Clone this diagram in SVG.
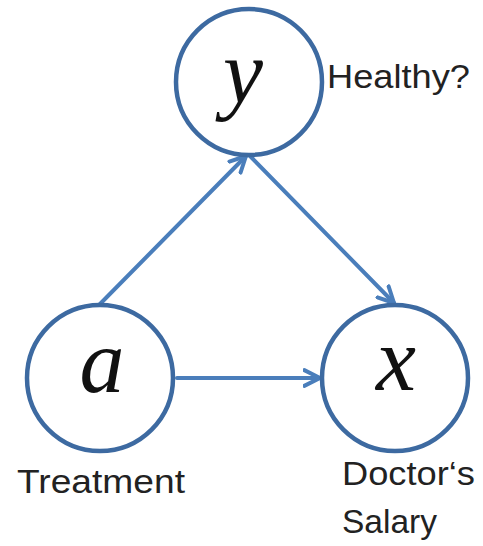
<svg xmlns="http://www.w3.org/2000/svg" width="483" height="546" viewBox="0 0 483 546">
<defs>
<style>
.node{fill:#fff;stroke:#3d6aa1;stroke-width:4.5}
.var{font-family:"Liberation Serif",serif;font-style:italic;font-size:90px;fill:#111;text-anchor:middle}
.lbl{font-family:"Liberation Sans",sans-serif;font-size:33px;fill:#222}
.edge{stroke:#4a7ebb;stroke-width:4;fill:none;stroke-linecap:round}
</style>
<marker id="arr" viewBox="0 0 14 14" refX="12" refY="7" markerWidth="20" markerHeight="20" markerUnits="userSpaceOnUse" orient="auto">
<path d="M1,1.5 L12,7 L1,12.5" fill="none" stroke="#4a7ebb" stroke-width="2.8" stroke-linecap="round" stroke-linejoin="round"/>
</marker>
</defs>
<rect width="483" height="546" fill="#fff"/>
<g id="edges">
<line class="edge" x1="100" y1="304" x2="246" y2="156" marker-end="url(#arr)"/>
<line class="edge" x1="250" y1="156" x2="394" y2="303" marker-end="url(#arr)"/>
<line class="edge" x1="177" y1="378" x2="320" y2="378" marker-end="url(#arr)"/>
</g>
<g id="node-y">
<circle class="node" cx="249" cy="82" r="73"/>
<text class="var" x="243" y="103">y</text>
<text class="lbl" x="327" y="88" textLength="143" lengthAdjust="spacingAndGlyphs">Healthy?</text>
</g>
<g id="node-a">
<circle class="node" cx="100" cy="378" r="73"/>
<text class="var" x="102" y="392">a</text>
<text class="lbl" x="17" y="493" textLength="168" lengthAdjust="spacingAndGlyphs">Treatment</text>
</g>
<g id="node-x">
<circle class="node" cx="395" cy="378" r="73"/>
<text class="var" x="396" y="390">x</text>
<text class="lbl" x="342" y="485" textLength="133" lengthAdjust="spacingAndGlyphs">Doctor‘s</text>
<text class="lbl" x="342" y="533" textLength="95" lengthAdjust="spacingAndGlyphs">Salary</text>
</g>
</svg>
